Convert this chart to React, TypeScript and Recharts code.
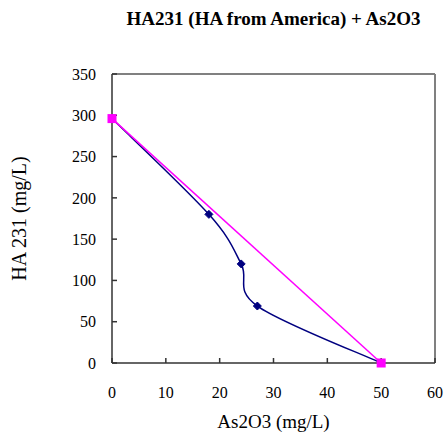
import React from 'react';
import { LineChart, Line, XAxis, YAxis, ReferenceLine } from 'recharts';

// 읽어낸 값 (그림에서 추정)
const xTicks = [0, 10, 20, 30, 40, 50, 60];
const yTicks = [0, 50, 100, 150, 200, 250, 300, 350];
const curveX = [0, 18, 24, 27, 50];
const curveY = [296, 180, 120, 69, 0];
const lineX = [0, 50];
const lineY = [296, 0];

const curveData = curveX.map((x, i) => ({ x, y: curveY[i] }));
const lineData = lineX.map((x, i) => ({ x, y: lineY[i] }));

const FONT = "'Times New Roman', Times, 'Liberation Serif', 'Noto Serif', 'DejaVu Serif', serif";
const NAVY = '#000080';
const MAGENTA = '#FF00FF';

// 엑셀식 스무딩 (Catmull-Rom -> 베지어)
const excelSmooth = (context: any) => {
  let pts: number[][] = [];
  return {
    areaStart() {},
    areaEnd() {},
    lineStart() {
      pts = [];
    },
    point(x: number, y: number) {
      pts.push([+x, +y]);
    },
    lineEnd() {
      const n = pts.length;
      if (!n) return;
      context.moveTo(pts[0][0], pts[0][1]);
      for (let i = 0; i < n - 1; i++) {
        const p0 = pts[Math.max(i - 1, 0)];
        const p1 = pts[i];
        const p2 = pts[i + 1];
        const p3 = pts[Math.min(i + 2, n - 1)];
        context.bezierCurveTo(
          p1[0] + (p2[0] - p0[0]) / 6,
          p1[1] + (p2[1] - p0[1]) / 6,
          p2[0] - (p3[0] - p1[0]) / 6,
          p2[1] - (p3[1] - p1[1]) / 6,
          p2[0],
          p2[1]
        );
      }
    },
  };
};

const Diamond = (props: any) => {
  const { cx, cy, index } = props;
  if (index === 0 || index === curveX.length - 1) return null;
  const r = 4;
  return (
    <polygon
      points={`${cx},${cy - r} ${cx + r},${cy} ${cx},${cy + r} ${cx - r},${cy}`}
      fill={NAVY}
      stroke={NAVY}
    />
  );
};

const Square = (props: any) => {
  const { cx, cy } = props;
  return <rect x={cx - 4.5} y={cy - 4.5} width={9} height={9} fill={MAGENTA} />;
};

const YTitle = ({ viewBox }: any) => {
  const cx = 19;
  const cy = viewBox.y + viewBox.height / 2;
  return (
    <text
      x={cx}
      y={cy}
      transform={`rotate(-90, ${cx}, ${cy})`}
      textAnchor="middle"
      dominantBaseline="central"
      fontFamily={FONT}
      fontSize={20}
      fill="#000"
    >
      HA 231 (mg/L)
    </text>
  );
};

export default function App() {
  const tick = { fontSize: 16, fill: '#000', fontFamily: FONT };
  return (
    <div style={{ position: 'absolute', left: 0, top: 0, width: 447, height: 435, background: '#fff' }}>
      <div
        style={{
          position: 'absolute',
          left: 112,
          width: 323,
          top: 8,
          textAlign: 'center',
          fontFamily: FONT,
          fontWeight: 'bold',
          fontSize: 19,
          color: '#000',
          whiteSpace: 'nowrap',
        }}
      >
        HA231 (HA from America) + As2O3
      </div>
      <LineChart width={447} height={435} margin={{ top: 74, right: 12, left: 0, bottom: 0 }}>
        <XAxis
          dataKey="x"
          type="number"
          domain={[0, 60]}
          ticks={xTicks}
          height={72}
          tick={tick}
          tickSize={-5}
          tickMargin={29}
          stroke="#333"
          strokeWidth={1.5}
          label={{ value: 'As2O3 (mg/L)', position: 'insideBottom', offset: 7, fontSize: 19, fill: '#000', fontFamily: FONT }}
        />
        <YAxis
          dataKey="y"
          type="number"
          domain={[0, 350]}
          ticks={yTicks}
          width={112}
          tick={tick}
          tickSize={-5}
          tickMargin={21}
          stroke="#333"
          strokeWidth={1.5}
          label={<YTitle />}
        />
        <ReferenceLine y={350} stroke="#808080" strokeWidth={2} />
        <ReferenceLine x={60} stroke="#808080" strokeWidth={2} />
        <Line
          data={curveData}
          dataKey="y"
          type={excelSmooth as any}
          stroke={NAVY}
          strokeWidth={1.5}
          dot={<Diamond />}
          activeDot={false}
          isAnimationActive={false}
        />
        <Line
          data={lineData}
          dataKey="y"
          type="linear"
          stroke={MAGENTA}
          strokeWidth={1.5}
          dot={<Square />}
          activeDot={false}
          isAnimationActive={false}
        />
      </LineChart>
    </div>
  );
}
